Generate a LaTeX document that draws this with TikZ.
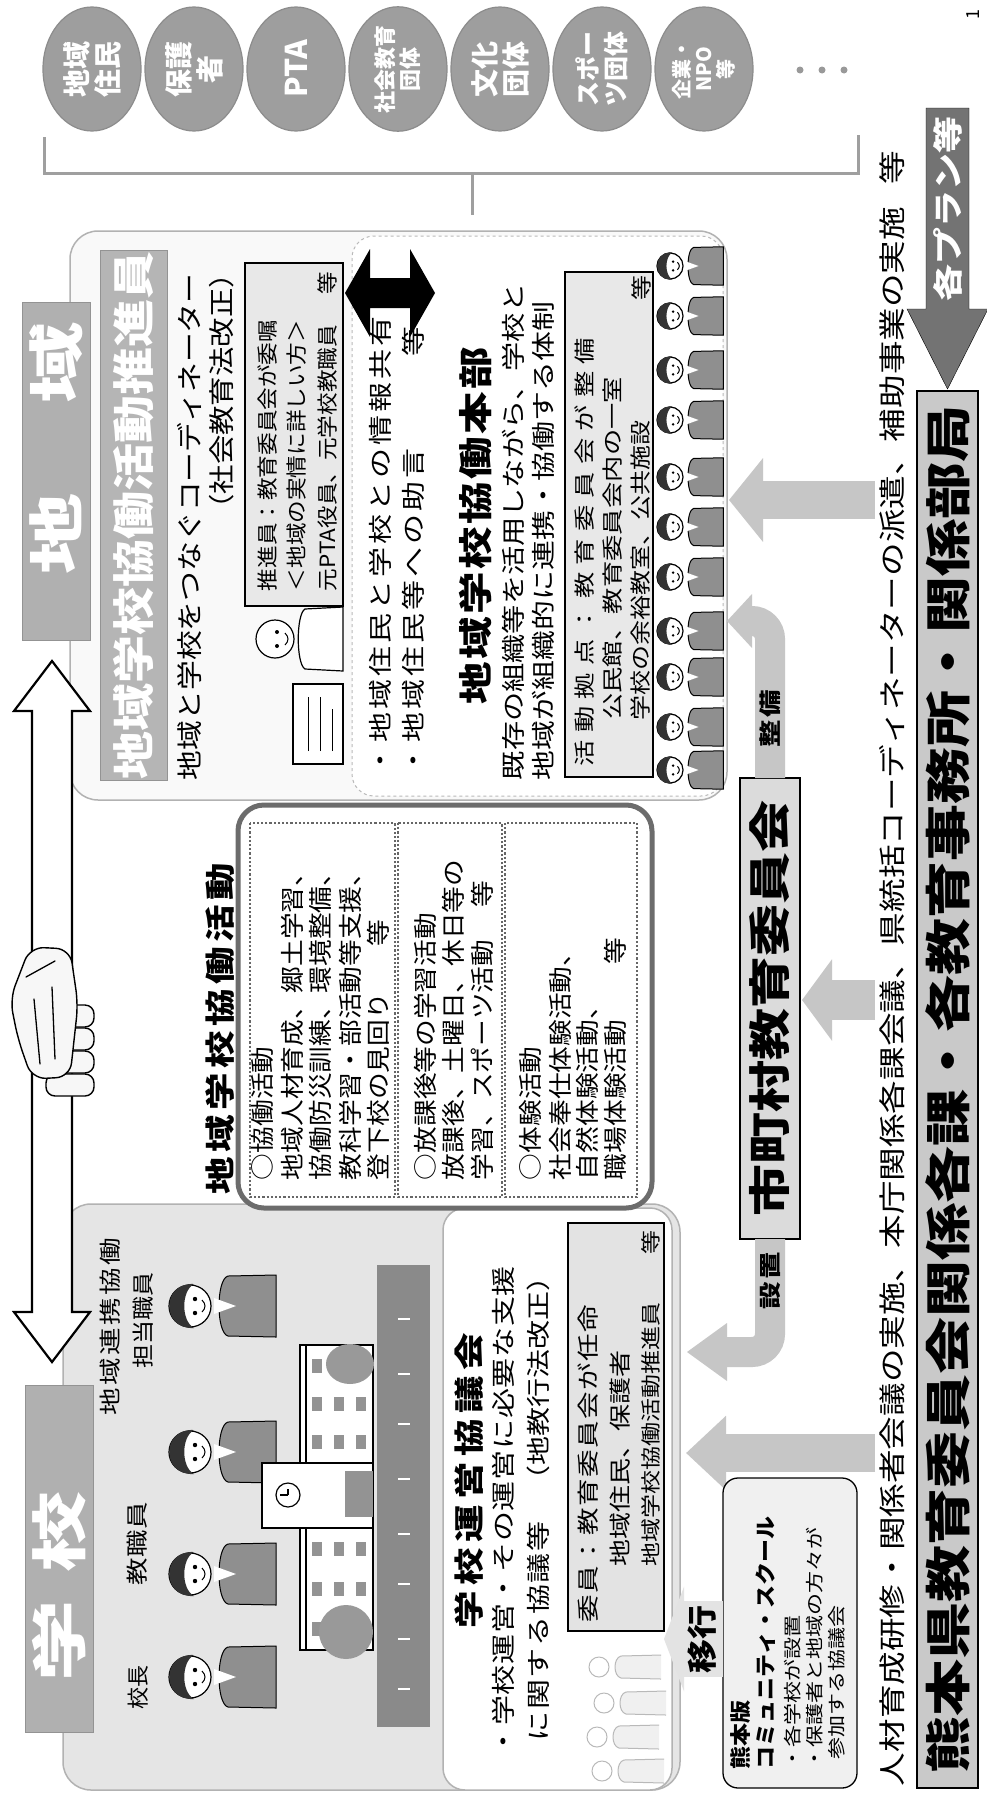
\documentclass[tikz,border=0pt]{standalone}
\usepackage{fontspec}
\usepackage{graphicx}
\setmainfont{Noto Sans CJK JP}
\usetikzlibrary{arrows.meta,shapes.geometric}

% set a string at a given pitch: the glyphs are widened a little and the rest is spacing
\newlength\chpitch
\makeatletter
\newcommand\spreadtext[2]{\begingroup\chpitch=#1pt\relax\sp@loop#2\relax\endgroup}
\def\sp@loop#1{\ifx\relax#1\else\sp@one{#1}\expandafter\sp@loop\fi}
\def\sp@one#1{\setbox0\hbox{#1}\ifdim\wd0>\chpitch\box0\else\hbox to\chpitch{\hss\box0\hss}\fi}
\makeatother
\newcommand\jt[3]{{\pgfmathsetmacro\jtS{min(#2/#1,1.25)}\pgfmathsetmacro\jtP{#2/\jtS}%
  \scalebox{\jtS}[1]{\fontsize{#1pt}{#1pt}\selectfont\spreadtext{\jtP}{#3}}}}
\newcommand\jb[3]{{\pgfmathsetmacro\jtS{min(#2/#1,1.25)}\pgfmathsetmacro\jtP{#2/\jtS}%
  \scalebox{\jtS}[1]{\fontsize{#1pt}{#1pt}\selectfont\bfseries\spreadtext{\jtP}{#3}}}}

\tikzset{
  person/.pic={
    \filldraw[fill=gray!88, draw=black, line width=1pt]
      (-31,86) -- (-30,38) .. controls (-27,26) and (27,26) .. (30,38) -- (31,86) -- cycle;
    \fill[white] (-8,24) -- (0,46) -- (8,24) -- cycle;
    \filldraw[fill=white, draw=black, line width=1.2pt] (0,0) circle (21);
    \fill[black!80] (-22,4) .. controls (-24,-29) and (24,-29) .. (22,4)
      .. controls (15,-9) and (-15,-9) .. (-22,4) -- cycle;
    \fill (-7,5) circle (2.2); \fill (7,5) circle (2.2);
    \draw[line width=1pt] (-6,12) .. controls (-2,16) and (2,16) .. (6,12);
  },
  sketchperson/.pic={
    \filldraw[gray!55, line width=1pt, fill=gray!12] (-12,62) -- (-11,22) .. controls (-9,14) and (9,14) .. (11,22) -- (12,62);
    \filldraw[gray!55, line width=1pt, fill=white] (0,0) circle (10);
  }
}

\begin{document}
\begin{tikzpicture}[x=1pt, y=1pt,
  region/.style={draw=gray!60, line width=1.5pt, rounded corners=28pt, inner sep=0pt, outer sep=0pt},
  labelbox/.style={draw=gray!85, line width=1pt, fill=gray!62, inner sep=0pt, outer sep=0pt},
  plainbox/.style={draw=black, line width=1.3pt, inner sep=0pt, outer sep=0pt},
  txt/.style={inner sep=0pt, outer sep=0pt, anchor=west},
  ctxt/.style={inner sep=0pt, outer sep=0pt},
  etxt/.style={inner sep=0pt, outer sep=0pt, anchor=east},
  dotbox/.style={draw=gray!80!black, dotted, line width=2.2pt, inner sep=0pt},
  orb/.style={ellipse, draw=gray!90, line width=1.2pt, fill=gray!76, minimum width=124pt, minimum height=98pt, inner sep=0pt, align=center, text=white},
  fatline/.style={gray!45, line width=#1},
  handpart/.style={fill=gray!6, draw=black, line width=1.4pt},
]
\useasboundingbox (0,0) rectangle (987,-1799);
\fill[white] (0,0) rectangle (987,-1799);

% the sheet is laid out landscape (u to the right, v downwards) and turned a quarter
\begin{scope}[shift={(0,-1799)}, rotate=90, transform shape, y=-1pt]

% ===== main regions
\node[region, fill=gray!5, minimum width=569pt, minimum height=657pt] (chiiki) at (1283.5,398.5) {};
\node[region, fill=white, dashed, draw=gray!55, line width=1pt, rounded corners=22pt, minimum width=560pt, minimum height=371pt] (honbu) at (1283,537.5) {};
\node[region, fill=gray!20, minimum width=586pt, minimum height=617pt] (gakko) at (302,371.5) {};
\node[region, fill=white, rounded corners=22pt, minimum width=582pt, minimum height=229pt] (kyogi) at (300,557.5) {};

% ===== side labels
\node[labelbox, minimum width=338pt, minimum height=68pt] (chiikiLbl) at (1328,56) {};
\node[ctxt, text=white] (chiikiTxt) at (1351,56) {\fontsize{56pt}{56pt}\selectfont\bfseries\scalebox{1.45}[1]{地}\hspace{90pt}\scalebox{1.45}[1]{域}};
\node[labelbox, minimum width=347pt, minimum height=68pt] (gakkoLbl) at (240.5,59) {};
\node[ctxt, text=white] (gakkoTxt) at (212.5,59) {\fontsize{56pt}{56pt}\selectfont\bfseries\scalebox{1.45}[1]{学}\hspace{28pt}\scalebox{1.45}[1]{校}};

% ===== double arrow between school and community, with handshake
\coordinate (dA) at (437,52);
\coordinate (dB) at (1138,52);
\filldraw[fill=white, draw=black, line width=2.2pt, line join=miter]
  (dA) -- ++(50,-38) -- ++(0,18) -- ++(601,0) -- ++(0,-18) -- (dB)
  -- ++(-50,38) -- ++(0,-18) -- ++(-601,0) -- ++(0,18) -- cycle;
\foreach \u in {714,737,760,783}
  \filldraw[handpart, rounded corners=9pt] (\u-11,46) rectangle (\u+11,94);
\filldraw[handpart, rounded corners=14pt]
  (800,10) -- (852,30) -- (850,70) -- (795,78) -- (722,70) -- (720,32) -- (760,18) -- cycle;
\draw[line width=1.3pt, line cap=round] (735,40) -- (800,34) (740,55) -- (812,52) (822,26) -- (838,55);

% ===== organisations in the community
\node[orb, font={\bfseries\fontsize{28pt}{31pt}\selectfont}] (o1) at (1730,92)  {地域\\住民};
\node[orb, font={\bfseries\fontsize{28pt}{31pt}\selectfont}] (o2) at (1730,194) {保護\\者};
\node[orb, font={\bfseries\fontsize{30pt}{31pt}\selectfont}] (o3) at (1730,296) {PTA};
\node[orb, font={\bfseries\fontsize{22pt}{25pt}\selectfont}] (o4) at (1730,398) {社会教育\\団体};
\node[orb, font={\bfseries\fontsize{28pt}{31pt}\selectfont}] (o5) at (1730,500) {文化\\団体};
\node[orb, font={\bfseries\fontsize{25pt}{28pt}\selectfont}] (o6) at (1730,602) {スポー\\ツ団体};
\node[orb, font={\bfseries\fontsize{20pt}{22pt}\selectfont}] (o7) at (1730,704) {企業・\\NPO\\等};
\fill[gray!80] (1729,800) circle (3.5) (1729,822) circle (3.5) (1729,844) circle (3.5);

\coordinate (brA) at (1662,44);
\coordinate (brB) at (1664,858);
\coordinate (brStem) at (1584,472);
\draw[gray!75, line width=3pt] (brA) -- (1626,44) -- (1626,858) -- (brB);
\draw[gray!75, line width=3pt] (1626,472) -- (brStem);

\node[ctxt] (pg) at (1784,973) {\fontsize{18pt}{18pt}\selectfont 1};

% ===== prefecture band and plans arrow
\node[plainbox, fill=gray!42, minimum width=1397pt, minimum height=61pt] (pref) at (709.5,947.5)
  {\jb{46}{57}{熊本県教育委員会関係各課・各教育事務所・関係部局}};
\coordinate (planTip) at (1410,947.5);
\filldraw[fill=gray!90!black, draw=black] (1691,926) -- (1490,926) -- (1490,907) -- (planTip) -- (1490,988) -- (1490,969) -- (1691,969) -- cycle;
\node[ctxt, text=white] (plan) at (1590,947.5) {\jb{30}{37}{各プラン等}};

\node[txt] (tasks) at (13,892) {\jt{27}{33.6}{人材育成研修・関係者会議の実施、本庁関係各課会議、県統括コーディネーターの派遣、補助事業の実施}};
\node[ctxt] (tasksEtc) at (1631,892) {\jt{27}{33.6}{等}};

% ===== municipal board of education
\node[plainbox, fill=gray!28, minimum width=461pt, minimum height=60pt] (city) at (790.5,770) {\jb{42}{52}{市町村教育委員会}};

% support arrows from the prefecture
\coordinate (s1) at (1299,875); \coordinate (t1) at (1299,729);
\draw[fatline=38pt, -{Triangle[length=34pt,width=82pt]}] (s1) -- (t1);
\coordinate (s2) at (799,875); \coordinate (t2) at (799,802);
\draw[fatline=40pt, -{Triangle[length=30pt,width=80pt]}] (s2) -- (t2);
\coordinate (s3) at (346,875); \coordinate (t3) at (346,686);
\draw[fatline=38pt, -{Triangle[length=40pt,width=72pt]}] (s3) -- (t3);

% set up / maintain arrows
\coordinate (seibiTurn) at (1178,770); \coordinate (seibiEnd) at (1178,750); \coordinate (seibiTip) at (1178,727);
\draw[fatline=30pt, rounded corners=18pt] (city.east) -- (seibiTurn) -- (seibiEnd);
\fill[gray!45] (1151,752) -- (seibiTip) -- (1205,752) -- cycle;
\node[ctxt] (seibiL) at (1080,770) {\jb{22}{30}{整備}};
\coordinate (setchiTurn) at (447,770); \coordinate (setchiEnd) at (447,725); \coordinate (setchiTip) at (447,687);
\draw[fatline=30pt, rounded corners=18pt] (city.west) -- (setchiTurn) -- (setchiEnd);
\fill[gray!45] (418,727) -- (setchiTip) -- (476,727) -- cycle;
\node[ctxt] (setchiL) at (518,770) {\jb{22}{30}{設置}};

% ===== collaborative activities
\node[draw=gray!85!black, line width=5pt, rounded corners=26pt, minimum width=403pt, minimum height=414pt, inner sep=0pt, fill=white] (act) at (792.5,445) {};
\node[ctxt] (actT) at (770,220) {\jb{30}{42}{地域学校協働活動}};
\node[dotbox, minimum width=374pt, minimum height=145pt] (comp1) at (789,322.5) {};
\node[dotbox, minimum width=374pt, minimum height=104pt] (comp2) at (789,450) {};
\node[dotbox, minimum width=374pt, minimum height=132pt] (comp3) at (789,571) {};
\node[txt] (c1a) at (619,262) {\jt{24}{26.7}{○協働活動}};
\node[txt] (c1b) at (619,292) {\jt{24}{26.7}{地域人材育成、郷土学習、}};
\node[txt] (c1c) at (619,320) {\jt{24}{26.7}{協働防災訓練、環境整備、}};
\node[txt] (c1d) at (619,350) {\jt{24}{26.7}{教科学習・部活動等支援、}};
\node[txt] (c1e) at (619,378) {\jt{24}{26.7}{登下校の見回り}};
\node[ctxt] (c1f) at (866,378) {\jt{24}{26.7}{等}};
\node[txt] (c2a) at (619,425) {\jt{24}{26.7}{○放課後等の学習活動}};
\node[txt] (c2b) at (619,453) {\jt{24}{26.7}{放課後、土曜日、休日等の}};
\node[txt] (c2c) at (619,482) {\jt{24}{26.7}{学習、スポーツ活動}};
\node[ctxt] (c2d) at (905,482) {\jt{24}{26.7}{等}};
\node[txt] (c3a) at (619,530) {\jt{24}{26.7}{○体験活動}};
\node[txt] (c3b) at (619,560) {\jt{24}{26.7}{社会奉仕体験活動、}};
\node[txt] (c3c) at (619,587) {\jt{24}{26.7}{自然体験活動、}};
\node[txt] (c3d) at (619,615) {\jt{24}{26.7}{職場体験活動}};
\node[ctxt] (c3e) at (848,615) {\jt{24}{26.7}{等}};

% ===== coordinator
\node[labelbox, fill=gray!58, minimum width=530pt, minimum height=67pt] (suishin) at (1284,133.5) {\color{white}\jb{42}{48}{地域学校協働活動推進員}};
\node[txt] (coord) at (1019,190) {\jt{26}{29.8}{地域と学校をつなぐコーディネーター}};
\node[etxt] (law1) at (1540,222) {\jt{26}{29.4}{（社会教育法改正）}};
\node[plainbox, fill=gray!18, minimum width=343pt, minimum height=98pt] (sbox) at (1364.5,294) {};
\node[txt] (sb1) at (1208,267) {\jt{21}{22.6}{推進員：教育委員会が委嘱}};
\node[txt] (sb2) at (1208,297) {\jt{21}{22.6}{＜地域の実情に詳しい方＞}};
\node[txt] (sb3) at (1208,327) {\jt{21}{22.6}{元{PTA}役員、元学校教職員}};
\node[ctxt] (sb4) at (1516,327) {\jt{21}{22.6}{等}};
% presenter with a chart
\filldraw[fill=white, draw=black, line width=1.2pt] (1128,343) -- (1130,305) .. controls (1135,296) and (1185,296) .. (1190,305) -- (1192,343) -- cycle;
\filldraw[fill=white, draw=black, line width=1.2pt] (1160,275) circle (19);
\fill (1153,277) circle (2) (1167,277) circle (2);
\draw[line width=1pt] (1154,285) .. controls (1158,289) and (1162,289) .. (1166,285);
\filldraw[fill=white, draw=black, line width=1.2pt] (1035,293) rectangle (1115,343);
\draw[line width=1pt] (1048,308) -- (1102,308) (1048,320) -- (1102,320) (1048,332) -- (1090,332);

% two-way link between coordinator and headquarters
\coordinate (dbT) at (1506,345);
\coordinate (dbB) at (1506,435);
\fill[black] (dbT) -- ++(44,25) -- ++(-29,0) -- ++(0,40) -- ++(29,0) -- (dbB) -- ++(-44,-25) -- ++(29,0) -- ++(0,-40) -- ++(-29,0) -- cycle;
\node[txt] (bl1) at (1022,380) {\jt{24}{33}{・地域住民と学校との情報共有}};
\node[txt] (bl2) at (1022,413) {\jt{24}{33}{・地域住民等への助言}};
\node[ctxt] (bl3) at (1458,413) {\jt{24}{33}{等}};

% ===== headquarters
\node[txt] (hqT) at (1093,476) {\jb{34}{45}{地域学校協働本部}};
\node[txt] (hq1) at (1019,513) {\jt{24}{29.2}{既存の組織等を活用しながら、学校と}};
\node[txt] (hq2) at (1019,543) {\jt{24}{29.9}{地域が組織的に連携・協働する体制}};
\node[plainbox, fill=gray!18, minimum width=505pt, minimum height=88pt] (base) at (1274.5,609) {};
\node[txt] (ba1) at (1029,585) {\jt{21}{33.5}{活動拠点：教育委員会が整備}};
\node[txt] (ba2) at (1079,613) {\jt{21}{26.4}{公民館、教育委員会内の一室}};
\node[txt] (ba3) at (1079,641) {\jt{21}{25}{学校の余裕教室、公共施設}};
\node[ctxt] (ba4) at (1511,641) {\jt{21}{25}{等}};
\foreach \u in {1533,1483,1429,1379,1322,1272,1222,1168,1122,1072,1029}
  \pic[scale=0.62] at (\u,670) {person};

% ===== school
\pic at (122,190) {person};
\pic at (225,190) {person};
\pic at (347,190) {person};
\pic at (493,190) {person};
\node[ctxt] (pKocho) at (112,138) {\jt{22}{22}{校長}};
\node[ctxt] (pStaff) at (255,137) {\jt{22}{28}{教職員}};
\node[ctxt] (pLiais1) at (472,110) {\jt{22}{30}{地域連携協働}};
\node[ctxt] (pLiais2) at (479,143) {\jt{22}{24}{担当職員}};
% school building
\filldraw[fill=white, draw=black, line width=1.2pt] (149,300) rectangle (271,373);
\filldraw[fill=white, draw=black, line width=1.2pt] (336,300) rectangle (454,373);
\draw[line width=1.2pt] (149,306) -- (271,306) (336,306) -- (454,306);
\foreach \u in {170,210,250,357,395,433}
  \foreach \v in {317,339,361}
    \fill[gray!85] (\u-7,\v-5) rectangle (\u+7,\v+5);
\filldraw[fill=white, draw=black, line width=1.2pt] (271,262) rectangle (336,373);
\draw[line width=1.2pt] (304,288) circle (12);
\draw[line width=1.2pt] (304,288) -- (304,280) (304,288) -- (310,288);
\fill[gray!85] (282,345) rectangle (328,373);
\fill[gray!80] (167,346) ellipse (27 and 27);
\fill[gray!80] (435,350) ellipse (20 and 24);
% ground strip
\fill[gray!92] (72,377) rectangle (534,430);
\foreach \u in {110,160,215,265,320,375,425,480}
  \draw[white, line width=2pt] (\u,398) -- (\u,410);

% ===== school management council
\node[txt] (kyT) at (168,469) {\jb{30}{43}{学校運営協議会}};
\node[txt] (ky1) at (42,503) {\jt{24}{30.7}{・学校運営・その運営に必要な支援}};
\node[txt] (ky2) at (57,538) {\jt{24}{31.6}{に関する協議等}};
\node[txt] (ky3) at (305,538) {\jt{24}{29}{（地教行法改正）}};
\node[plainbox, fill=gray!22, minimum width=408pt, minimum height=96pt] (member) at (372,616) {};
\node[txt] (me1) at (176,588) {\jt{22}{29}{委員：教育委員会が任命}};
\node[txt] (me2) at (233,620) {\jt{22}{27}{地域住民、保護者}};
\node[txt] (me3) at (233,651) {\jt{20}{24}{地域学校協働活動推進員}};
\node[ctxt] (me4) at (557,651) {\jt{20}{24}{等}};
\foreach \u/\v in {28/602,62/597,96/604,132/599}
  \pic at (\u,\v) {sketchperson};

% ===== Kumamoto community school and transition
\node[plainbox, fill=gray!12, rounded corners=15pt, minimum width=310pt, minimum height=134pt] (kcs) at (166,790) {};
\node[txt] (k1) at (30,741) {\jb{21}{23}{熊本版}};
\node[txt] (k2) at (30,766) {\jb{21}{23}{コミュニティ・スクール}};
\node[txt] (k3) at (30,793) {\jt{18}{22}{・各学校が設置}};
\node[txt] (k4) at (30,815) {\jt{18}{22}{・保護者と地域の方々が}};
\node[txt] (k5) at (40,837) {\jt{18}{22}{参加する協議会}};
\coordinate (ikoS) at (160,723); \coordinate (ikoT) at (160,664);
\draw[gray!22, line width=76pt, -{Triangle[length=20pt,width=104pt]}] (ikoS) -- (ikoT);
\node[ctxt] (iko) at (160,702) {\jb{30}{34}{移行}};

\end{scope}
\end{tikzpicture}
\end{document}
